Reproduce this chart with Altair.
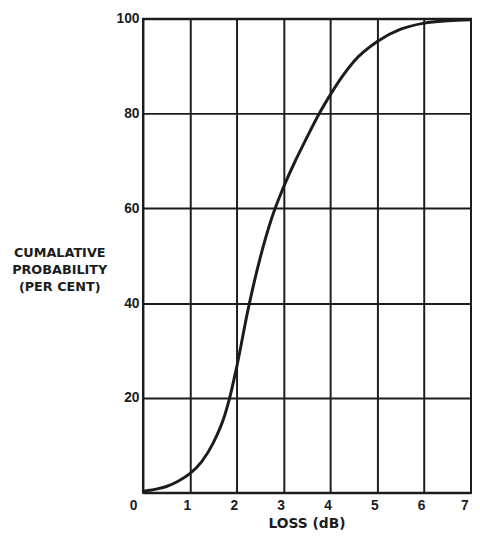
import altair as alt
import pandas as pd

# Curve values (LOSS in dB vs cumulative probability in %)
loss_db = [0.0, 0.25, 0.5, 0.75, 1.0, 1.25, 1.5, 1.75, 1.85, 2.0, 2.25, 2.5, 2.75,
           3.0, 3.25, 3.5, 3.75, 4.0, 4.25, 4.5, 5.0, 5.5, 6.0, 6.5, 7.0]
cum_prob = [0.3, 0.7, 1.3, 2.4, 4.0, 6.5, 10.5, 16.5, 20.0, 26.5, 39.0, 49.5, 58.0,
            64.5, 70.0, 75.0, 79.8, 84.0, 87.8, 91.0, 95.2, 97.8, 99.1, 99.6, 99.8]

x_ticks = [0, 1, 2, 3, 4, 5, 6, 7]
y_ticks = [0, 20, 40, 60, 80, 100]

x_title = "LOSS (dB)"
y_title = ["CUMALATIVE", "PROBABILITY", "(PER CENT)"]

df = pd.DataFrame({"loss": loss_db, "prob": cum_prob})

INK = "#1c1c1c"

chart = alt.Chart(df).mark_line(
    color=INK, strokeWidth=3, interpolate="monotone"
).encode(
    x=alt.X(
        "loss:Q",
        scale=alt.Scale(domain=[0, 7], nice=False, zero=False),
        axis=alt.Axis(
            values=x_ticks, format="d", title=x_title,
            grid=True, gridColor=INK, gridWidth=2, gridOpacity=1,
            ticks=False, domain=False,
            labelFont="Liberation Sans", labelFontWeight="bold", labelFontSize=14,
            labelColor=INK, labelPadding=6,
            labelOffset={"condition": {"test": "datum.value == 0", "value": -14}, "value": -3},
            titleFont="DejaVu Sans", titleFontWeight="bold", titleFontSize=14,
            titleColor=INK, titleX=166, titleY=31,
            titleAlign="center", titleBaseline="middle",
        ),
    ),
    y=alt.Y(
        "prob:Q",
        scale=alt.Scale(domain=[0, 100], nice=False),
        axis=alt.Axis(
            values=y_ticks, format="d", title=y_title,
            labelExpr="datum.value == 0 ? '' : datum.label",
            grid=True, gridColor=INK, gridWidth=2, gridOpacity=1,
            ticks=False, domain=False,
            labelFont="Liberation Sans", labelFontWeight="bold", labelFontSize=14,
            labelColor=INK, labelPadding=4,
            titleFont="DejaVu Sans", titleFontWeight="bold", titleFontSize=13,
            titleColor=INK, titleAngle=0, titleX=-85, titleY=237,
            titleAlign="center", titleBaseline="middle", titleLineHeight=17.5,
        ),
    ),
).properties(
    width=333, height=481,
    autosize=alt.AutoSizeParams(type="none"),
    padding={"left": 137, "top": 7, "right": 1, "bottom": 40},
).configure_view(
    stroke=INK, strokeWidth=2
)

chart.save("out.html", embed_options={"renderer": "svg", "actions": False})
